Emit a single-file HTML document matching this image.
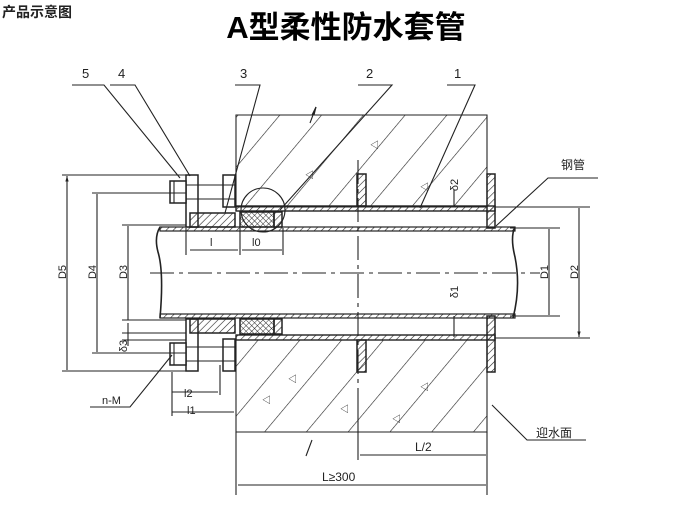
<!DOCTYPE html>
<html><head><meta charset="utf-8"><style>
body{margin:0;background:#fff;width:687px;height:523px;overflow:hidden}
svg{display:block}
text{font-family:"Liberation Sans","Noto Sans CJK SC",sans-serif;fill:#222}
</style></head><body>
<svg width="687" height="523" viewBox="0 0 687 523" xmlns="http://www.w3.org/2000/svg">
<defs>
<pattern id="conc" width="32" height="32" patternUnits="userSpaceOnUse" patternTransform="rotate(40)">
<line x1="0" y1="0" x2="0" y2="32" stroke="#222" stroke-width="1.2"/></pattern>
<pattern id="h" width="5" height="5" patternUnits="userSpaceOnUse" patternTransform="rotate(45)">
<line x1="0" y1="0" x2="0" y2="5" stroke="#222" stroke-width="1.2"/></pattern>
<pattern id="x" width="4" height="4" patternUnits="userSpaceOnUse" patternTransform="rotate(45)">
<path d="M0 0V4M0 0H4" stroke="#222" stroke-width="0.9"/></pattern>
<marker id="a" viewBox="0 0 10 10" refX="10" refY="5" markerWidth="7" markerHeight="5" orient="auto-start-reverse"><path d="M0 2L10 5L0 8Z" fill="#222"/></marker>
</defs>
<text x="2" y="17" font-size="14" font-weight="bold">产品示意图</text>
<text x="346" y="38" font-size="31" font-weight="bold" text-anchor="middle" style="fill:#000">A型柔性防水套管</text>

<g stroke="#222" stroke-width="1.1" fill="none">
<path d="M236 115H312l4-8 -2 8H487V207H236Z" fill="url(#conc)"/>
<path d="M236 340H487V432H236Z" fill="url(#conc)"/>
<path d="M316 107l-6 16M312 440l-6 16"/>
<rect x="236" y="206" width="259" height="5" fill="url(#h)" stroke-width="1.4"/>
<rect x="236" y="335" width="259" height="5" fill="url(#h)" stroke-width="1.4"/>
<rect x="357" y="174" width="9" height="32" fill="url(#h)" stroke-width="1.5"/>
<rect x="357" y="340" width="9" height="32" fill="url(#h)" stroke-width="1.5"/>
<rect x="487" y="174" width="8" height="54" fill="url(#h)" stroke-width="1.5"/>
<rect x="487" y="316" width="8" height="56" fill="url(#h)" stroke-width="1.5"/>
<rect x="160" y="227" width="355" height="4" fill="url(#h)" stroke-width="1.2"/>
<rect x="160" y="314" width="355" height="4" fill="url(#h)" stroke-width="1.2"/>
<path d="M160 227q-6 10 -2 25q6 20 2 66" stroke-width="1.6"/>
<path d="M515 227q-5 10 0 30q6 30 -2 61" stroke-width="1.6"/>
<path d="M150 273H540" stroke-dasharray="24 5 4 5"/>
<path d="M358 160V400" stroke-dasharray="24 5 4 5"/>
<rect x="186" y="175" width="12" height="52" fill="#fff" stroke-width="1.5"/>
<rect x="223" y="175" width="12" height="32" fill="#fff" stroke-width="1.5"/>
<rect x="190" y="213" width="45" height="14" fill="url(#h)" stroke-width="1.5"/>
<rect x="240" y="212" width="34" height="15" fill="url(#x)" stroke-width="1.5"/>
<rect x="274" y="212" width="8" height="15" fill="url(#h)" stroke-width="1.5"/>
<rect x="170" y="181" width="16" height="22" fill="#fff" stroke-width="1.5"/>
<path d="M186 185H235M186 199H235M174 181v22"/>
<circle cx="263" cy="210" r="22"/>
<rect x="186" y="319" width="12" height="52" fill="#fff" stroke-width="1.5"/>
<rect x="223" y="339" width="12" height="32" fill="#fff" stroke-width="1.5"/>
<rect x="190" y="319" width="45" height="14" fill="url(#h)" stroke-width="1.5"/>
<rect x="240" y="319" width="34" height="15" fill="url(#x)" stroke-width="1.5"/>
<rect x="274" y="319" width="8" height="15" fill="url(#h)" stroke-width="1.5"/>
<rect x="170" y="343" width="16" height="22" fill="#fff" stroke-width="1.5"/>
<path d="M186 347H235M186 361H235M174 343v22"/>
<path d="M62 175H186M92 193H186M122 225H186M62 371H186M92 353H186M122 320H186M122 333H186M122 340H186"/>
<g marker-start="url(#a)" marker-end="url(#a)">
<path d="M67 176V370M97 194V352M128 226V320M190 250H238M242 250H282M172 392H218M172 412H234M360 455H486M238 485H486M549 229V315M579 208V337"/>
</g>
<path d="M128 323V346M186 228V255M240 228V255M283 228V255M172 372V416M220 365V395M236 432V495M487 432V495M358 400V460M454 190V207M454 316V337M510 228H560M510 316H560M495 207H590M495 338H590"/>
<path d="M72 85H104L180 178M110 85H135L190 176M235 85H260L225 213M358 85H392L280 210M447 85H475L420 208"/>
<path d="M496 226L548 178H598M90 407H130L172 355M492 405L527 440H586"/>
</g>
<g font-size="13">
<text x="82" y="78">5</text><text x="118" y="78">4</text><text x="240" y="78">3</text><text x="366" y="78">2</text><text x="454" y="78">1</text>
<text x="210" y="246" font-size="11">l</text><text x="252" y="246" font-size="11">l0</text>
<text x="184" y="397" font-size="11">l2</text><text x="187" y="414" font-size="11">l1</text>
<text x="102" y="404" font-size="11">n-M</text>
<text x="415" y="451" font-size="12">L/2</text>
<text x="322" y="481" font-size="12">L≥300</text>
<text x="561" y="169" font-size="12">钢管</text>
<text x="536" y="437" font-size="12">迎水面</text>
</g>
<g font-size="11">
<text transform="translate(66,272) rotate(-90)" text-anchor="middle">D5</text>
<text transform="translate(96,272) rotate(-90)" text-anchor="middle">D4</text>
<text transform="translate(127,272) rotate(-90)" text-anchor="middle">D3</text>
<text transform="translate(127,346) rotate(-90)" text-anchor="middle">δ3</text>
<text transform="translate(458,185) rotate(-90)" text-anchor="middle">δ2</text>
<text transform="translate(458,292) rotate(-90)" text-anchor="middle">δ1</text>
<text transform="translate(548,272) rotate(-90)" text-anchor="middle">D1</text>
<text transform="translate(578,272) rotate(-90)" text-anchor="middle">D2</text>
</g>
<g font-size="9">
<text x="370" y="148">◁</text><text x="305" y="178">◁</text><text x="420" y="190">◁</text><text x="288" y="382">◁</text><text x="340" y="412">◁</text><text x="420" y="390">◁</text><text x="262" y="403">◁</text><text x="392" y="422">◁</text>
</g>
</svg>
</body></html>
